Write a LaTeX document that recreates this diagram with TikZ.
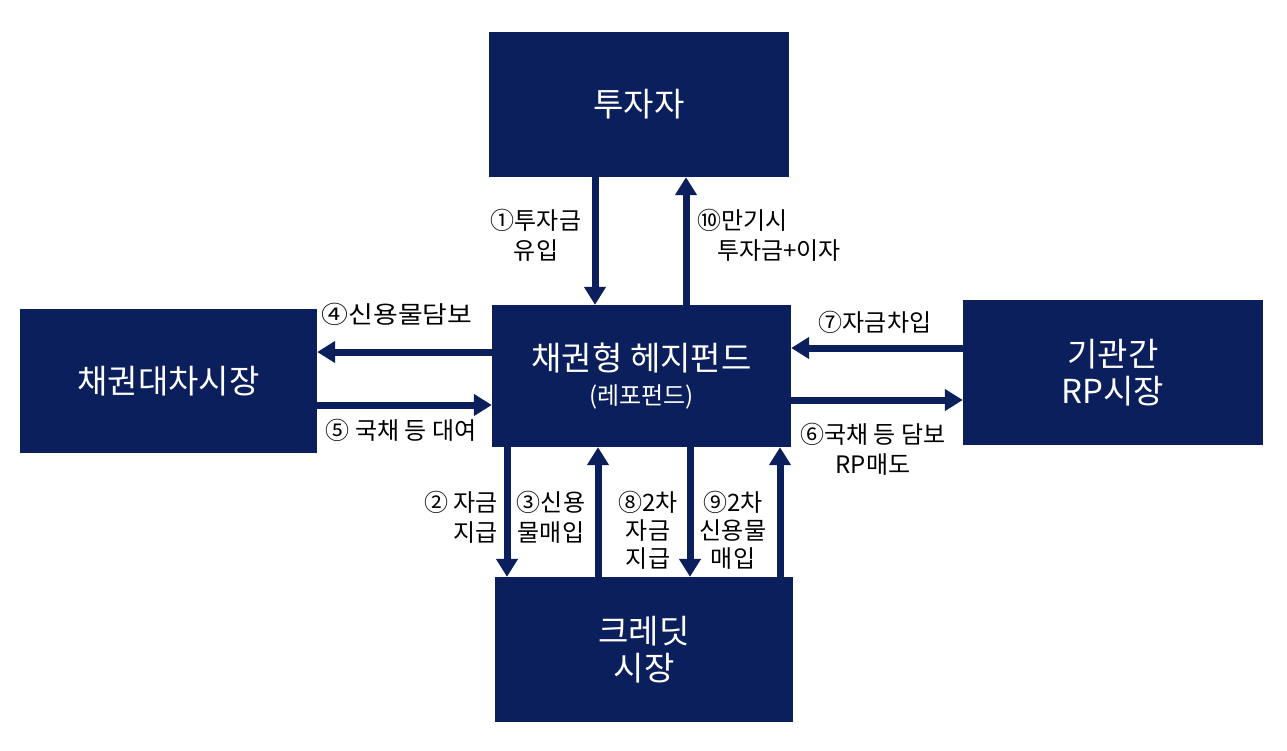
\documentclass[tikz,border=0pt]{standalone}
\usepackage{fontspec}
\setmainfont{Noto Sans CJK KR}
\usetikzlibrary{arrows.meta}
\definecolor{navy}{RGB}{10,31,92}
\tikzset{
  box/.style={draw=none, fill=navy, text=white, minimum width=300pt, minimum height=145pt,
    inner sep=0pt, align=center, font=\fontsize{33}{37}\selectfont},
  arr/.style={draw=navy, line width=7pt, -{Triangle[width=21pt,length=18pt]}},
  lbl/.style={text=black, inner sep=0pt, font=\fontsize{24}{30}\selectfont}
}
\begin{document}
\begin{tikzpicture}[x=1pt,y=-1pt]
\useasboundingbox (0,0) rectangle (1287,750);
\fill[white] (0,0) rectangle (1287,750);
% boxes
\node[box] (inv) at (639,104.5) {투자자};
\node[box, minimum width=299pt, minimum height=142pt] (hf) at (641.5,376) {채권형 헤지펀드\\[-3pt]{\fontsize{24}{28}\selectfont (레포펀드)}};
\node[box, minimum width=297pt, minimum height=144pt] (lend) at (168.5,381) {채권대차시장};
\node[box] (rp) at (1113,372.5) {기관간\\RP시장};
\node[box, minimum width=298pt] (cr) at (644,649.5) {크레딧\\시장};
% arrows investor <-> fund
\draw[arr] (595,0 |- inv.south) -- (595,0 |- hf.north);
\draw[arr] (686,0 |- hf.north) -- (686,0 |- inv.south);
% fund <-> lending market
\draw[arr] (hf.west |- 0,352) -- (lend.east |- 0,352);
\draw[arr] (lend.east |- 0,405) -- (hf.west |- 0,405);
% fund <-> RP market
\draw[arr] (rp.west |- 0,348) -- (hf.east |- 0,348);
\draw[arr] (hf.east |- 0,400) -- (rp.west |- 0,400);
% fund <-> credit market
\draw[arr] (507,0 |- hf.south) -- (507,0 |- cr.north);
\draw[arr] (598,0 |- cr.north) -- (598,0 |- hf.south);
\draw[arr] (690,0 |- hf.south) -- (690,0 |- cr.north);
\draw[arr] (780,0 |- cr.north) -- (780,0 |- hf.south);
% labels
\node[lbl, align=center] (l1) at (536,235) {①투자금\\유입};
\node[lbl, align=left, anchor=west] (l10) at (697,235) {⑩만기시\\\hspace{20pt}투자금+이자};
\node[lbl] (l4) at (397,314) {\scalebox{1.12}[1]{④신용물담보}};
\node[lbl] (l5) at (401,430) {⑤ 국채 등 대여};
\node[lbl] (l7) at (875,322) {⑦자금차입};
\node[lbl, align=center] (l6) at (873,449) {⑥국채 등 담보\\RP매도};
\node[lbl, align=right, anchor=east] (l2) at (498,517) {② 자금\\지급};
\node[lbl, align=center] (l3) at (551,517) {③신용\\물매입};
\node[lbl, align=center, font=\fontsize{24}{28}\selectfont] (l8) at (648,530) {⑧2차\\자금\\지급};
\node[lbl, align=center, font=\fontsize{24}{28}\selectfont] (l9) at (733,530) {⑨2차\\신용물\\매입};
\end{tikzpicture}
\end{document}
